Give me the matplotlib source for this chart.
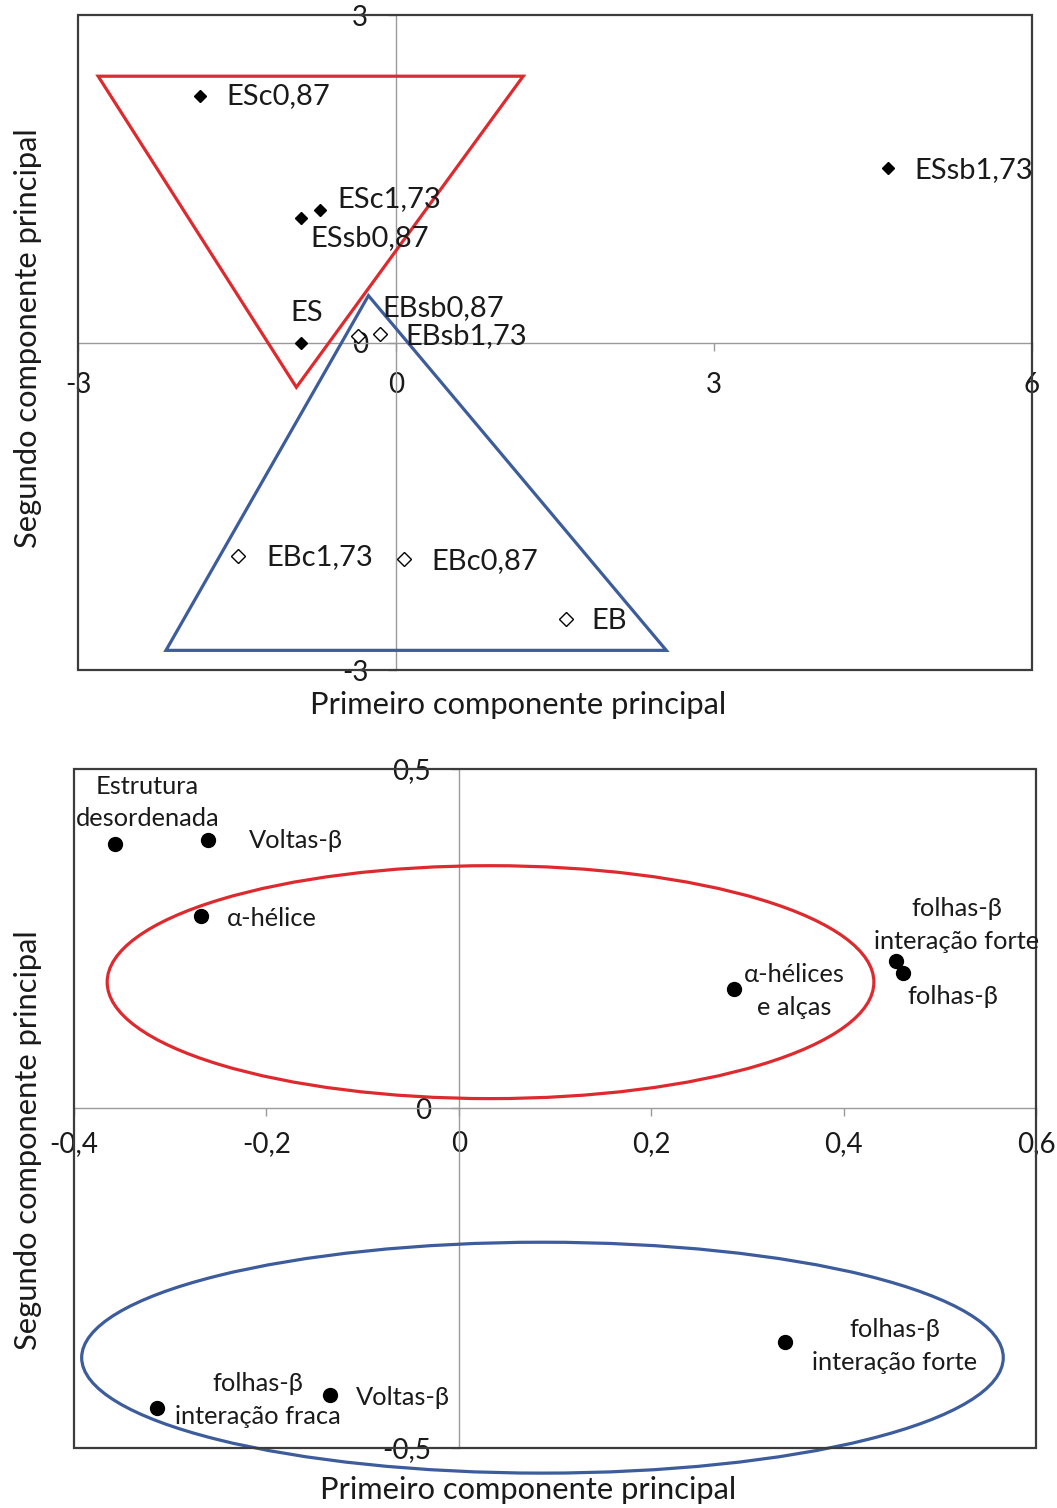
import matplotlib
matplotlib.use("Agg")
import matplotlib.pyplot as plt
from matplotlib.patches import Polygon, Ellipse, Rectangle

plt.rcParams['font.family'] = ['Lato', 'DejaVu Sans']

TEXT = '#1a1a1a'
AXIS_GRAY = '#9a9a9a'
FRAME = '#3c3c3c'
RED = '#de2a2e'
BLUE = '#3d5c9c'
FS = 21          # sample labels (top panel)
FS_BAND = 18.3   # band labels (bottom panel)
FS_TICK = 20     # tick labels
FS_TITLE = 22.2

# ---------------- Top panel: sample scores ----------------
s_names = ['ESc0,87', 'ESc1,73', 'ESsb0,87', 'ES', 'ESsb1,73']
s_x = [-1.85, -0.72, -0.90, -0.90, 4.64]
s_y = [2.26, 1.21, 1.14, 0.00, 1.60]

b_names = ['EBsb0,87', 'EBsb1,73', 'EBc1,73', 'EBc0,87', 'EB']
b_x = [-0.36, -0.15, -1.49, 0.08, 1.60]
b_y = [0.06, 0.08, -1.96, -1.98, -2.53]

# group outlines (data units)
red_tri_x = [-2.81, 1.20, -0.94]
red_tri_y = [2.44, 2.44, -0.41]
blue_tri_x = [-0.26, -2.17, 2.55]
blue_tri_y = [0.43, -2.82, -2.82]

top_xticks = [-3, 0, 3, 6]
top_xticklabels = ['-3', '0', '3', '6']
top_yticks = [-3, 0, 3]
top_yticklabels = ['-3', '0', '3']

# ---------------- Bottom panel: band loadings ----------------
l_names = ['Estrutura\ndesordenada', 'Voltas-β', 'α-hélice', 'α-hélices\ne alças',
           'folhas-β\ninteração forte', 'folhas-β', 'folhas-β\ninteração forte',
           'Voltas-β', 'folhas-β\ninteração fraca']
l_x = [-0.357, -0.261, -0.268, 0.286, 0.454, 0.462, 0.339, -0.134, -0.314]
l_y = [0.390, 0.395, 0.283, 0.176, 0.217, 0.200, -0.344, -0.422, -0.441]

# ellipse outlines: (center x, center y, width, height)
red_ell = (0.033, 0.186, 0.797, 0.343)
blue_ell = (0.087, -0.367, 0.958, 0.340)

bot_xticks = [-0.4, -0.2, 0, 0.2, 0.4, 0.6]
bot_xticklabels = ['-0,4', '-0,2', '0', '0,2', '0,4', '0,6']
bot_yticks = [-0.5, 0, 0.5]
bot_yticklabels = ['-0,5', '0', '0,5']

AXIS_TITLE_X = 'Primeiro componente principal'
AXIS_TITLE_Y = 'Segundo componente principal'

fig = plt.figure(figsize=(10.57, 15.08), dpi=100)
ax1 = fig.add_axes([0.0738, 0.5557, 0.9025, 0.4343])
ax2 = fig.add_axes([0.0700, 0.0398, 0.9101, 0.4503])


def style_axes(ax, xlim, ylim, xt, xtl, yt, ytl, xpad, ypad):
    ax.set_xlim(*xlim)
    ax.set_ylim(*ylim)
    for side in ('top', 'right'):
        ax.spines[side].set_visible(False)
    for side in ('left', 'bottom'):
        ax.spines[side].set_position(('data', 0))
        ax.spines[side].set_color(AXIS_GRAY)
        ax.spines[side].set_linewidth(1.0)
    ax.set_xticks(xt)
    ax.set_xticklabels(xtl)
    ax.set_yticks(yt)
    ax.set_yticklabels(ytl)
    ax.tick_params(axis='x', direction='out', length=6, width=1, color=AXIS_GRAY,
                   pad=xpad, labelsize=FS_TICK, labelcolor=TEXT)
    ax.tick_params(axis='y', direction='out', length=6, width=1, color=AXIS_GRAY,
                   pad=ypad, labelsize=FS_TICK, labelcolor=TEXT)
    ax.add_patch(Rectangle((0, 0), 1, 1, transform=ax.transAxes, fill=False,
                           ec=FRAME, lw=1.6, clip_on=False, zorder=5))


style_axes(ax1, (-3, 6), (-3, 3), top_xticks, top_xticklabels,
           top_yticks, top_yticklabels, 15, 14)
style_axes(ax2, (-0.4, 0.6), (-0.5, 0.5), bot_xticks, bot_xticklabels,
           bot_yticks, bot_yticklabels, 10.5, 14)

# top panel outlines and points
ax1.add_patch(Polygon(list(zip(red_tri_x, red_tri_y)), closed=True, fill=False,
                      ec=RED, lw=2.3, zorder=3))
ax1.add_patch(Polygon(list(zip(blue_tri_x, blue_tri_y)), closed=True, fill=False,
                      ec=BLUE, lw=2.3, zorder=3))
ax1.plot(s_x, s_y, ls='none', marker='D', ms=6.5, mfc='black', mec='black', zorder=4)
ax1.plot(b_x, b_y, ls='none', marker='D', ms=7.5, mfc='white', mec='black',
         mew=1.0, zorder=4)

top_offsets = {
    'ESc0,87': (26, 0, 'left'),
    'ESc1,73': (18, 11, 'left'),
    'ESsb0,87': (10, -20, 'left'),
    'ES': (6, 30, 'center'),
    'ESsb1,73': (27, -2, 'left'),
    'EBsb0,87': (25, 28, 'left'),
    'EBsb1,73': (25, -2, 'left'),
    'EBc1,73': (28, -1, 'left'),
    'EBc0,87': (27, -2, 'left'),
    'EB': (26, -2, 'left'),
}
for name, x, y in zip(s_names + b_names, s_x + b_x, s_y + b_y):
    dx, dy, ha = top_offsets[name]
    ax1.annotate(name, (x, y), xytext=(dx, dy), textcoords='offset pixels',
                 ha=ha, va='center', fontsize=FS, color=TEXT, zorder=6,
                 annotation_clip=False)

ax1.text(0.461, -0.053, AXIS_TITLE_X, transform=ax1.transAxes, ha='center',
         va='center', fontsize=FS_TITLE, color=TEXT)
ax1.text(-0.052, 0.507, AXIS_TITLE_Y, transform=ax1.transAxes, ha='center',
         va='center', rotation=90, fontsize=FS_TITLE, color=TEXT)

# bottom panel outlines and points
for (cx, cy, w, h), col in ((red_ell, RED), (blue_ell, BLUE)):
    ax2.add_patch(Ellipse((cx, cy), w, h, fill=False, ec=col, lw=2.3,
                          clip_on=False, zorder=3))
ax2.plot(l_x, l_y, ls='none', marker='o', ms=10, mfc='black', mec='black', zorder=4)

bot_offsets = [
    (32, 41, 'center'),
    (41, 0, 'left'),
    (26, -2, 'left'),
    (60, -2, 'center'),
    (61, 36, 'center'),
    (4, -24, 'left'),
    (110, -4, 'center'),
    (26, -2, 'left'),
    (101, 8, 'center'),
]
for name, x, y, (dx, dy, ha) in zip(l_names, l_x, l_y, bot_offsets):
    ax2.annotate(name, (x, y), xytext=(dx, dy), textcoords='offset pixels',
                 ha=ha, va='center', multialignment='center', linespacing=1.5,
                 fontsize=FS_BAND, color=TEXT, zorder=6, annotation_clip=False)

ax2.text(0.472, -0.062, AXIS_TITLE_X, transform=ax2.transAxes, ha='center',
         va='center', fontsize=FS_TITLE, color=TEXT)
ax2.text(-0.048, 0.454, AXIS_TITLE_Y, transform=ax2.transAxes, ha='center',
         va='center', rotation=90, fontsize=FS_TITLE, color=TEXT)

fig.savefig('out.png', dpi=100, facecolor='white')
